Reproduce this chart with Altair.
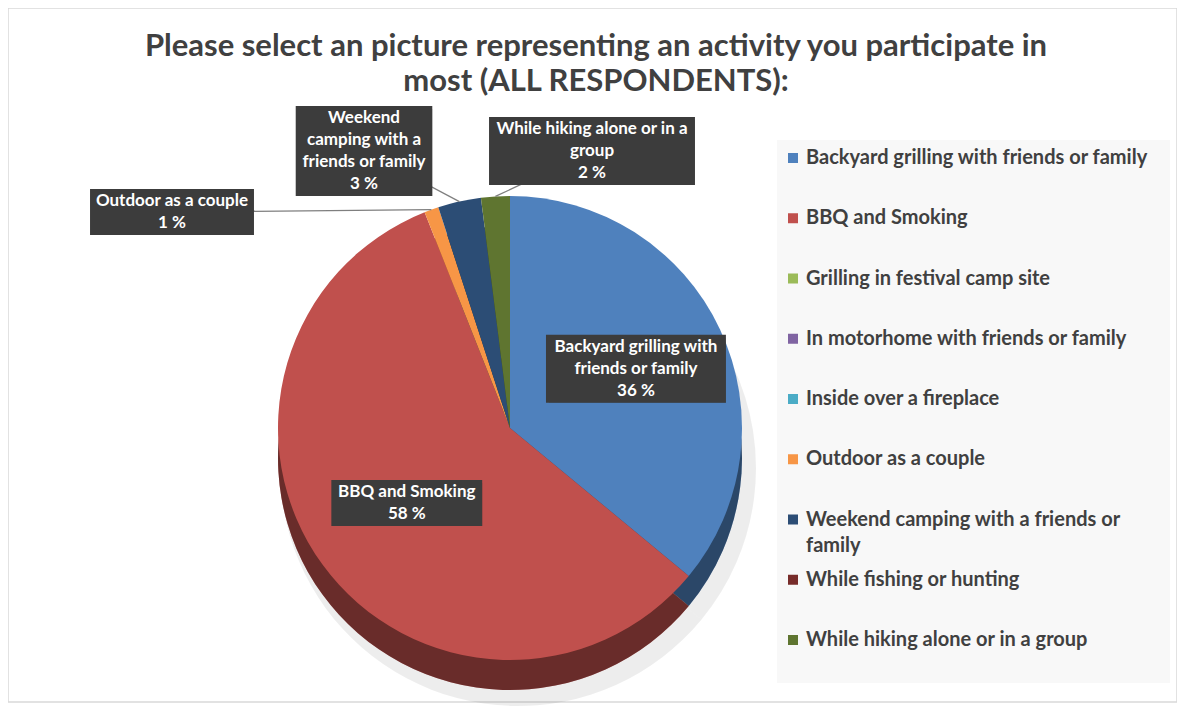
import math
import altair as alt
import pandas as pd

# ---------------- data ----------------
categories = [
    "Backyard grilling with friends or family",
    "BBQ and Smoking",
    "Grilling in festival camp site",
    "In motorhome with friends or family",
    "Inside over a fireplace",
    "Outdoor as a couple",
    "Weekend camping with a friends or family",
    "While fishing or hunting",
    "While hiking alone or in a group",
]
percent = [36, 58, 0, 0, 0, 1, 3, 0, 2]
colors = ["#4F81BD", "#C0504D", "#9BBB59", "#8064A2", "#4BACC6",
          "#F79646", "#2C4D75", "#772C2A", "#5F7530"]

label_lines = {
    "Backyard grilling with friends or family": ["Backyard grilling with", "friends or family"],
    "BBQ and Smoking": ["BBQ and Smoking"],
    "Outdoor as a couple": ["Outdoor as a couple"],
    "Weekend camping with a friends or family": ["Weekend", "camping with a", "friends or family"],
    "While hiking alone or in a group": ["While hiking alone or in a", "group"],
}
legend_lines = {
    "Weekend camping with a friends or family": ["Weekend camping with a friends or", "family"],
}
title_lines = ["Please select an picture representing an activity you participate in",
               "most (ALL RESPONDENTS):"]

# ---------------- layout (styling) ----------------
W, H = 1169, 694
CX, CY, R, DEPTH = 502, 420, 232, 30
FONT = "Lato"
LABEL_FS, LINE_H = 17, 22
inside_factor = {"Backyard grilling with friends or family": 0.6, "BBQ and Smoking": 0.55}
outside_center = {
    "Outdoor as a couple": (164, 204),
    "Weekend camping with a friends or family": (356, 143),
    "While hiking alone or in a group": (584, 143),
}
LEG_BOX = (769, 1162, 132, 675)
LEG_RANGE = [150, 632]
LEG_SYM_X, LEG_TEXT_X = 785, 798


def text_width(s, fs):
    """rough width estimate of bold Lato text, in px"""
    em = 0.0
    for ch in s:
        if ch in "iljtfr .,'":
            em += 0.3
        elif ch in "mwMW%":
            em += 0.8
        elif ch.isupper():
            em += 0.66
        else:
            em += 0.53
    return em * fs


pie = pd.DataFrame({"category": categories, "value": percent, "order": range(len(categories))})

# label table derived from the values
rows = []
total = sum(percent)
cum = 0.0
for cat, v in zip(categories, percent):
    mid = (cum + v / 2) / total * 2 * math.pi
    cum += v
    if v <= 0:
        continue
    lines = label_lines[cat] + [f"{v} %"]
    ex = CX + R * math.sin(mid)
    ey = CY - R * math.cos(mid)
    if cat in inside_factor:
        f = inside_factor[cat]
        lx, ly = CX + f * R * math.sin(mid), CY - f * R * math.cos(mid)
        outside = False
    else:
        lx, ly = outside_center[cat]
        outside = True
    w = max(text_width(s, LABEL_FS) for s in lines) + 14
    h = len(lines) * LINE_H + 2
    rows.append(dict(category=cat, text="\n".join(lines), lx=lx, ly=ly,
                     ty=ly - (len(lines) - 1) * LINE_H / 2,
                     x1=lx - w / 2, x2=lx + w / 2, y1=ly - h / 2, y2=ly + h / 2,
                     ex=ex, ey=ey, outside=outside))
labels = pd.DataFrame(rows)

leg = pd.DataFrame({
    "category": categories,
    "legend_text": ["\n".join(legend_lines.get(c, [c])) for c in categories],
})

color_scale = alt.Scale(domain=categories, range=colors)
color = alt.Color("category:N", scale=color_scale, legend=None, sort=categories)
theta = alt.Theta("value:Q", stack=True)
order = alt.Order("order:Q", sort="ascending")

base = alt.Chart(pie)

shadow = base.mark_arc(radius=R + 6, color="#000000", opacity=0.07).encode(
    theta=theta, order=order, x=alt.value(CX + 8), y=alt.value(CY + DEPTH + 10))

side = base.mark_arc(radius=R).encode(
    theta=theta, order=order, color=color,
    x=alt.value(CX), y=alt.value(CY + DEPTH))

side_dark = base.mark_arc(radius=R, color="#000000", opacity=0.45).encode(
    theta=theta, order=order, x=alt.value(CX), y=alt.value(CY + DEPTH))

top = base.mark_arc(radius=R).encode(
    theta=theta, order=order, color=color,
    x=alt.value(CX), y=alt.value(CY))

lab = alt.Chart(labels)


def px(f):
    return alt.X(f, type="quantitative", scale=None, axis=None)


def py(f):
    return alt.Y(f, type="quantitative", scale=None, axis=None)


leaders = lab.transform_filter("datum.outside").mark_rule(color="#7f7f7f", strokeWidth=1.3).encode(
    x=px("ex"), y=py("ey"), x2="lx:Q", y2="ly:Q")

box_shadow = lab.mark_rect(color="#000000", opacity=0.25).encode(
    x=px("x1"), x2="x2:Q", y=py("y1"), y2="y2:Q",
    xOffset=alt.value(3), yOffset=alt.value(3))

boxes = lab.mark_rect(color="#3c3c3c").encode(
    x=px("x1"), x2="x2:Q", y=py("y1"), y2="y2:Q")

texts = lab.mark_text(font=FONT, fontSize=LABEL_FS, fontWeight="bold", color="white",
                      align="center", baseline="middle", lineBreak="\n", lineHeight=LINE_H).encode(
    x=px("lx"), y=py("ty"), text="text:N")

title = alt.Chart(pd.DataFrame({"t": ["\n".join(title_lines)]})).mark_text(
    font=FONT, fontSize=31, fontWeight="bold", color="#404040",
    align="center", baseline="middle", lineBreak="\n", lineHeight=35).encode(
    x=alt.value(588), y=alt.value(39), text="t:N")

# ---- legend (drawn with the colour scale and a point scale for rows) ----
leg_bg = alt.Chart(pd.DataFrame({"k": [0]})).mark_rect(color="#f8f8f8").encode(
    x=alt.value(LEG_BOX[0]), x2=alt.value(LEG_BOX[1]),
    y=alt.value(LEG_BOX[2]), y2=alt.value(LEG_BOX[3]))

leg_y = alt.Y("category:N", sort=categories, axis=None,
              scale=alt.Scale(type="point", range=LEG_RANGE, padding=0))

leg_sym = alt.Chart(leg).mark_square(size=100, opacity=1).encode(
    x=alt.value(LEG_SYM_X), y=leg_y, color=color)

leg_txt = alt.Chart(leg).mark_text(
    font=FONT, fontSize=20, fontWeight="bold", color="#404040",
    align="left", baseline="middle", lineBreak="\n", lineHeight=26).encode(
    x=alt.value(LEG_TEXT_X), y=leg_y, text="legend_text:N")

legend_layer = alt.layer(leg_bg, leg_sym, leg_txt)

chart = alt.layer(shadow, side, side_dark, top, leaders, box_shadow, boxes, texts, title,
                  legend_layer).resolve_scale(y="independent", x="independent").properties(
    width=W, height=H, padding=0, background="white"
).configure_view(stroke="#d9d9d9", strokeWidth=1.5)

chart.save("out.html", embed_options={"renderer": "svg", "actions": False})
